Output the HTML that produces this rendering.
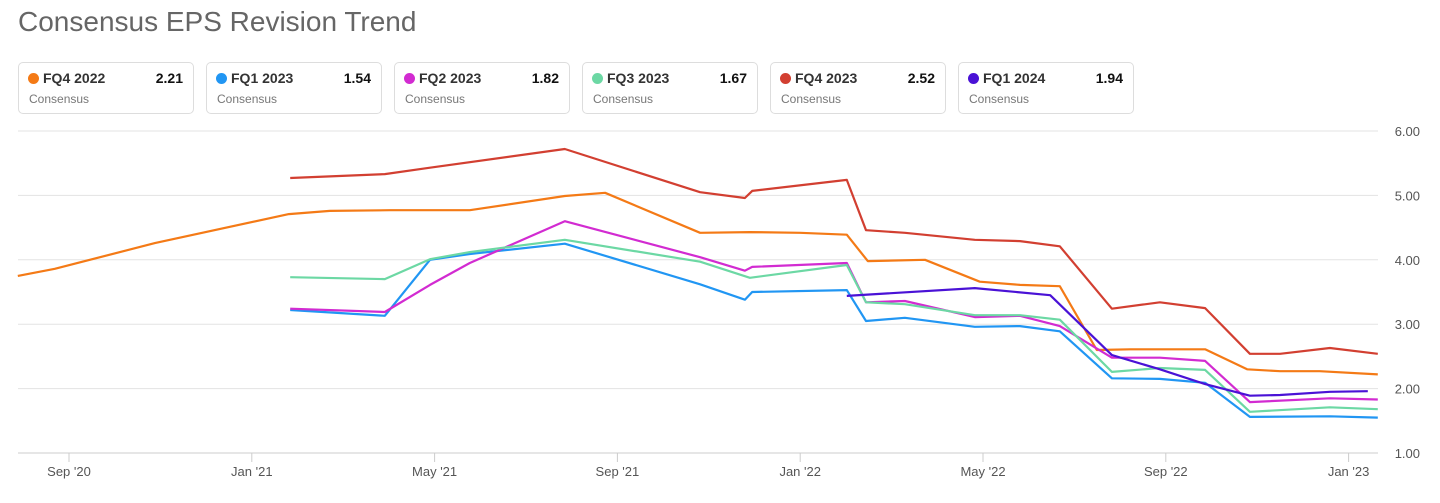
<!DOCTYPE html>
<html><head><meta charset="utf-8"><style>
body{margin:0;width:1440px;height:503px;background:#fff;font-family:"Liberation Sans",Arial,sans-serif;overflow:hidden;position:relative}
.title{position:absolute;left:18px;top:6px;font-size:28px;color:#666}
.card{position:absolute;top:62px;width:176px;height:52px;border:1px solid #ddd;border-radius:5px;box-sizing:border-box}
.card .dot{position:absolute;left:9px;top:10px;width:11px;height:11px;border-radius:50%}
.card .nm{position:absolute;left:24px;top:7px;font-size:14px;font-weight:bold;color:#333}
.card .vl{position:absolute;right:10px;top:7px;font-size:14px;font-weight:bold;color:#111}
.card .cs{position:absolute;left:10px;top:29px;font-size:12px;color:#777}
svg{position:absolute;left:0;top:0}
</style></head><body>
<div class="title">Consensus EPS Revision Trend</div>
<div id="legend"></div>
<svg id="chart" width="1440" height="503"></svg>
<script>
const seriesNames=["FQ4 2022","FQ1 2023","FQ2 2023","FQ3 2023","FQ4 2023","FQ1 2024"];
const seriesColors=["#f47a16","#2196f3","#d22bd1","#6cd8a4","#d23f31","#4a12d6"];
const legendValues=["2.21","1.54","1.82","1.67","2.52","1.94"];
// x = months since Sep 1 2020
const xFQ422=[-1.12,-0.31,1.88,4.81,5.71,7.02,8.77,10.85,11.73,13.81,14.9,16.0,17.02,17.48,18.73,19.93,20.81,21.68,22.49,23.22,24.86,25.78,26.5,27.37,28.64];
const yFQ422=[3.75,3.86,4.26,4.71,4.76,4.77,4.77,4.99,5.04,4.42,4.43,4.42,4.39,3.98,4.0,3.66,3.61,3.59,2.6,2.61,2.61,2.3,2.27,2.27,2.22];
const xFQ123=[4.84,6.91,7.9,8.77,10.85,13.81,14.79,14.95,17.02,17.44,18.29,19.82,20.81,21.68,22.82,23.87,24.86,25.84,27.59,28.64];
const yFQ123=[3.22,3.13,4.0,4.09,4.25,3.62,3.38,3.5,3.53,3.05,3.1,2.96,2.97,2.89,2.16,2.15,2.09,1.56,1.57,1.55];
const xFQ223=[4.84,6.91,7.9,8.77,10.85,13.81,14.79,14.95,17.02,17.44,18.29,19.82,20.81,21.68,22.82,23.87,24.86,25.84,27.59,28.64];
const yFQ223=[3.24,3.19,3.61,3.95,4.6,4.04,3.83,3.89,3.95,3.34,3.36,3.11,3.13,2.97,2.48,2.48,2.43,1.79,1.85,1.83];
const xFQ323=[4.84,6.91,7.9,8.77,10.85,13.81,14.9,17.02,17.44,18.29,19.82,20.81,21.68,22.82,23.87,24.86,25.84,27.59,28.64];
const yFQ323=[3.73,3.7,4.01,4.12,4.31,3.97,3.72,3.92,3.34,3.31,3.14,3.14,3.07,2.26,2.32,2.29,1.64,1.71,1.68];
const xFQ423=[4.84,6.91,7.9,10.85,13.81,14.79,14.95,17.02,17.44,18.29,19.82,20.81,21.68,22.82,23.87,24.86,25.84,26.5,27.59,28.64];
const yFQ423=[5.27,5.33,5.43,5.72,5.05,4.96,5.07,5.24,4.46,4.42,4.31,4.29,4.21,3.24,3.34,3.25,2.54,2.54,2.63,2.54];
const xFQ124=[17.02,19.82,21.47,22.82,23.87,24.86,25.84,26.5,27.59,28.42];
const yFQ124=[3.44,3.56,3.45,2.52,2.3,2.07,1.89,1.9,1.95,1.96];
const xs=[xFQ422,xFQ123,xFQ223,xFQ323,xFQ423,xFQ124];
const ys=[yFQ422,yFQ123,yFQ223,yFQ323,yFQ423,yFQ124];
const yTicks=[1,2,3,4,5,6];
const xTickMonths=[0,4,8,12,16,20,24,28];
const xTickLabels=["Sep '20","Jan '21","May '21","Sep '21","Jan '22","May '22","Sep '22","Jan '23"];

const NS="http://www.w3.org/2000/svg";
const svg=document.getElementById('chart');
const X=m=>69+m*45.7;
const Y=v=>453-(v-1)*64.4;
function mk(t,a){const e=document.createElementNS(NS,t);for(const k in a)e.setAttribute(k,a[k]);svg.appendChild(e);return e;}
yTicks.forEach(v=>{
  const l=mk('line',{x1:18,x2:1378,y1:Y(v),y2:Y(v),stroke:v===1?'#ccc':'#e3e3e3','stroke-width':1});
  
  
  const t=mk('text',{x:1420,y:Y(v)+5,'text-anchor':'end','font-size':13,fill:'#555','font-family':'Liberation Sans, sans-serif'});
  t.textContent=v.toFixed(2);
  
  
});
xTickMonths.forEach((m,i)=>{
  const l=mk('line',{x1:X(m),x2:X(m),y1:453,y2:462,stroke:'#ccc'});
  
  
  const t=mk('text',{x:X(m),y:476,'text-anchor':'middle','font-size':13,fill:'#555','font-family':'Liberation Sans, sans-serif'});
  t.textContent=xTickLabels[i];
  
  
});
xs.forEach((xa,i)=>{
  const pts=xa.map((m,j)=>X(m).toFixed(1)+','+Y(ys[i][j]).toFixed(1)).join(' ');
  const p=mk('polyline',{points:pts,fill:'none',stroke:seriesColors[i],'stroke-width':2.2,'stroke-linejoin':'round'});
  
  
});
const lg=document.getElementById('legend');
seriesNames.forEach((n,i)=>{
  const c=document.createElement('div');
  c.className='card';c.style.left=(18+i*188)+'px';
  
  
  c.innerHTML='<div class="dot" style="background:'+seriesColors[i]+'"></div><div class="nm">'+n+'</div><div class="vl">'+legendValues[i]+'</div><div class="cs">Consensus</div>';
  lg.appendChild(c);
});
</script>
</body></html>
